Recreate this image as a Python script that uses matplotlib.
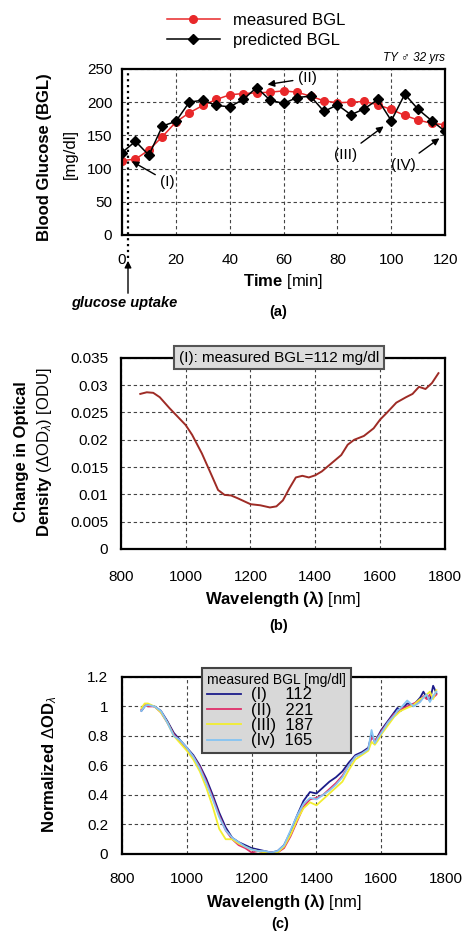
import matplotlib
matplotlib.use('Agg')
import matplotlib.pyplot as plt

plt.rcParams['font.family'] = ['Liberation Sans', 'DejaVu Sans']
plt.rcParams['mathtext.fontset'] = 'custom'
plt.rcParams['mathtext.rm'] = 'Liberation Sans'
plt.rcParams['mathtext.bf'] = 'Liberation Sans:bold'
plt.rcParams['mathtext.it'] = 'Liberation Sans:italic'

# (a) blood glucose vs time
time_min = [0, 5, 10, 15, 20, 25, 30, 35, 40, 45, 50, 55, 60, 65, 70, 75, 80, 85, 90, 95, 100, 105, 110, 115, 120]
measured = [112, 114, 128, 148, 170, 184, 195, 204, 211, 213, 214, 215, 217, 215, 209, 202, 199, 200, 201, 196, 189, 180, 173, 168, 166]
predicted = [124, 141, 120, 164, 171, 200, 203, 195, 193, 204, 222, 203, 198, 207, 209, 186, 196, 181, 190, 204, 172, 212, 189, 172, 156]

# (b) change in optical density, sample (I)
wl_b = [860, 880, 900, 920, 950, 1000, 1020, 1050, 1080, 1100, 1120, 1140, 1160, 1200, 1230, 1260, 1280,
        1300, 1320, 1340, 1360, 1380, 1400, 1420, 1450, 1480, 1500, 1520, 1550, 1580, 1600, 1620, 1650,
        1680, 1700, 1720, 1740, 1760, 1780]
od_b = [0.0284, 0.0287, 0.0286, 0.0278, 0.0258, 0.0227, 0.0209, 0.0175, 0.0135, 0.0108, 0.0099, 0.0098,
        0.0093, 0.0082, 0.0080, 0.0076, 0.0078, 0.0089, 0.0111, 0.0131, 0.0134, 0.0131, 0.0135, 0.0142,
        0.0157, 0.0172, 0.0191, 0.0200, 0.0207, 0.0221, 0.0237, 0.0249, 0.0268, 0.0278, 0.0284, 0.0297,
        0.0293, 0.0304, 0.0322]

# (c) normalized spectra
wl_c = [860, 870, 880, 900, 920, 940, 960, 980, 1000, 1020, 1040, 1060, 1080, 1100, 1120, 1140, 1160, 1180,
        1200, 1220, 1240, 1260, 1280, 1300, 1320, 1340, 1360, 1380, 1400, 1420, 1440, 1460, 1480, 1500,
        1520, 1540, 1560, 1570, 1580, 1590, 1600, 1620, 1640, 1650, 1660, 1680, 1700, 1720, 1730, 1740,
        1750, 1760, 1770]
norm_I = [0.97, 1.00, 1.01, 1.00, 0.97, 0.90, 0.82, 0.77, 0.72, 0.67, 0.60, 0.51, 0.40, 0.28, 0.18, 0.11, 0.08, 0.06,
          0.04, 0.03, 0.02, 0.01, 0.02, 0.06, 0.15, 0.26, 0.36, 0.42, 0.41, 0.45, 0.49, 0.52, 0.56, 0.62,
          0.67, 0.69, 0.72, 0.81, 0.76, 0.80, 0.84, 0.90, 0.96, 0.99, 0.97, 1.02, 1.01, 1.06, 1.10, 1.06,
          1.04, 1.14, 1.09]
norm_II = [0.98, 1.01, 1.00, 1.00, 0.96, 0.89, 0.81, 0.76, 0.71, 0.66, 0.59, 0.49, 0.38, 0.26, 0.16, 0.10, 0.06, 0.04,
           0.01, 0.02, 0.01, 0.01, 0.01, 0.04, 0.12, 0.22, 0.32, 0.37, 0.38, 0.40, 0.44, 0.48, 0.53, 0.60,
           0.66, 0.68, 0.71, 0.79, 0.77, 0.79, 0.83, 0.89, 0.95, 0.96, 0.98, 1.00, 1.02, 1.04, 1.07, 1.05,
           1.08, 1.06, 1.08]
norm_III = [0.99, 1.02, 1.02, 1.00, 0.96, 0.89, 0.80, 0.75, 0.70, 0.64, 0.56, 0.45, 0.32, 0.17, 0.10, 0.10, 0.07, 0.05,
            0.03, 0.02, 0.01, 0.00, 0.01, 0.05, 0.13, 0.23, 0.31, 0.35, 0.33, 0.37, 0.41, 0.45, 0.49, 0.57,
            0.64, 0.67, 0.70, 0.76, 0.74, 0.77, 0.81, 0.87, 0.93, 0.95, 0.97, 0.99, 1.01, 1.05, 1.06, 1.08,
            1.10, 1.05, 1.11]
norm_IV = [0.97, 1.00, 1.01, 1.00, 0.97, 0.89, 0.80, 0.77, 0.72, 0.66, 0.58, 0.48, 0.37, 0.25, 0.16, 0.11, 0.08, 0.05,
           0.03, 0.02, 0.02, 0.01, 0.02, 0.06, 0.16, 0.26, 0.34, 0.38, 0.37, 0.40, 0.43, 0.47, 0.52, 0.60,
           0.66, 0.68, 0.71, 0.84, 0.75, 0.79, 0.82, 0.89, 0.94, 0.97, 0.99, 1.04, 1.00, 1.03, 1.06, 1.08,
           1.03, 1.07, 1.10]
labels_c = ['(I)    112', '(II)   221', '(III)  187', '(Iv)  165']
colors_c = ['#1c1c8a', '#e0306a', '#f2ee30', '#86c4f2']

fig = plt.figure(figsize=(4.63, 9.32), dpi=100)


def style(ax):
    ax.grid(True, linestyle=(0, (3, 2.5)), color='#444444', linewidth=0.8)
    ax.set_axisbelow(True)
    for s in ax.spines.values():
        s.set_linewidth(1.6)
    ax.tick_params(length=0, labelsize=11)


# ---- (a)
ax1 = fig.add_axes([0.2635, 0.748, 0.698, 0.178])
style(ax1)
ax1.tick_params(axis='x', pad=13)
ax1.tick_params(axis='y', pad=7)
ax1.plot(time_min, measured, '-o', color='#e8282a', lw=1.1, ms=5.5, label='measured BGL')
ax1.plot(time_min, predicted, '-D', color='black', lw=1.1, ms=5, label='predicted BGL')
ax1.set_xlim(0, 120)
ax1.set_ylim(0, 250)
ax1.set_xticks(range(0, 121, 20))
ax1.set_yticks(range(0, 251, 50))
ax1.axvline(2.2, ymin=-0.14, ymax=1, color='black', ls=':', lw=1.6, clip_on=False)
ap = dict(arrowstyle='-|>', color='black', lw=1, mutation_scale=10)
ax1.annotate('(I)', xy=(2.7, 113), xytext=(17, 80), ha='center', va='center', fontsize=11, arrowprops=ap)
ax1.annotate('(II)', xy=(53, 226), xytext=(69, 236), ha='center', va='center', fontsize=11, arrowprops=ap)
ax1.annotate('(III)', xy=(98, 166), xytext=(83, 121), ha='center', va='center', fontsize=11, arrowprops=ap)
ax1.annotate('(IV)', xy=(118.7, 148), xytext=(104.5, 106), ha='center', va='center', fontsize=11, arrowprops=ap)
ax1.text(1.0, 1.03, 'TY ♂ 32 yrs', transform=ax1.transAxes, ha='right', va='bottom',
         fontsize=8.5, style='italic', family=['Liberation Sans', 'DejaVu Sans'])
ax1.set_xlabel(r'$\mathbf{Time}$ [min]', fontsize=12, labelpad=4)
fig.text(45 / 463, 1 - 157 / 932, 'Blood Glucose (BGL)', rotation=90, ha='center', va='center',
         fontsize=12, fontweight='bold')
fig.text(70 / 463, 1 - 154 / 932, '[mg/dl]', rotation=90, ha='center', va='center', fontsize=12)
fig.legend(loc='upper left', bbox_to_anchor=(160 / 463, 1 - 6 / 932), frameon=False, fontsize=12,
           handlelength=3.2, labelspacing=0.3, borderaxespad=0)
fig.text(124 / 463, 1 - 303 / 932, 'glucose uptake', ha='center', va='center', fontsize=10.5,
         fontweight='bold', style='italic')
fig.patches.append(matplotlib.patches.FancyArrowPatch((128 / 463, 1 - 296 / 932), (128 / 463, 1 - 258 / 932),
                                                      transform=fig.transFigure, arrowstyle='-|>',
                                                      mutation_scale=10, color='black', lw=1))
fig.text(278 / 463, 1 - 312 / 932, '(a)', ha='center', va='center', fontsize=10.5, fontweight='bold')

# ---- (b)
ax2 = fig.add_axes([0.261, 0.411, 0.700, 0.205])
style(ax2)
ax2.tick_params(axis='x', pad=15)
ax2.tick_params(axis='y', pad=9)
ax2.plot(wl_b, od_b, color='#9e2b25', lw=1.4)
ax2.set_xlim(800, 1800)
ax2.set_ylim(0, 0.035)
ax2.set_xticks(range(800, 1801, 200))
ax2.set_yticks([0, 0.005, 0.01, 0.015, 0.02, 0.025, 0.03, 0.035])
ax2.set_yticklabels(['0', '0.005', '0.01', '0.015', '0.02', '0.025', '0.03', '0.035'])
ax2.text(0.488, 1.0, '(I): measured BGL=112 mg/dl', transform=ax2.transAxes, ha='center', va='center',
         fontsize=11, bbox=dict(boxstyle='square,pad=0.3', facecolor='#dcdcdc', edgecolor='#555555', lw=1.5))
ax2.set_xlabel(r'$\mathbf{Wavelength\ (\lambda)}$ [nm]', fontsize=12, labelpad=4)
fig.text(22 / 463, 1 - 452 / 932, 'Change in Optical', rotation=90, ha='center', va='center',
         fontsize=12, fontweight='bold')
fig.text(45 / 463, 1 - 452 / 932, r'$\mathbf{Density}$ ($\Delta$OD$_\lambda$) [ODU]', rotation=90,
         ha='center', va='center', fontsize=12)
fig.text(279 / 463, 1 - 626 / 932, '(b)', ha='center', va='center', fontsize=10.5, fontweight='bold')

# ---- (c)
ax3 = fig.add_axes([0.2635, 0.0837, 0.700, 0.190])
style(ax3)
ax3.tick_params(axis='x', pad=13)
ax3.tick_params(axis='y', pad=10)
for ys, c, lab in zip([norm_I, norm_II, norm_III, norm_IV], colors_c, labels_c):
    ax3.plot(wl_c, ys, color=c, lw=1.3, label=lab)
ax3.set_xlim(800, 1800)
ax3.set_ylim(0, 1.2)
ax3.set_xticks(range(800, 1801, 200))
ax3.set_yticks([0, 0.2, 0.4, 0.6, 0.8, 1.0, 1.2])
ax3.set_yticklabels(['0', '0.2', '0.4', '0.6', '0.8', '1', '1.2'])
leg = ax3.legend(loc='upper center', bbox_to_anchor=(0.478, 1.097), title='measured BGL [mg/dl]',
                 fontsize=12, title_fontsize=10, fancybox=False, framealpha=1, facecolor='#d8d8d8',
                 edgecolor='#444444', handlelength=2.0, labelspacing=0.02, borderpad=0.3,
                 handletextpad=0.6)
leg._legend_box.align = 'left'
leg.get_frame().set_linewidth(1.5)
ax3.set_xlabel(r'$\mathbf{Wavelength\ (\lambda)}$ [nm]', fontsize=12, labelpad=4)
fig.text(50 / 463, 1 - 764 / 932, r'Normalized $\Delta$OD$_\lambda$', rotation=90, ha='center', va='center',
         fontsize=12, fontweight='bold')
fig.text(280 / 463, 1 - 924 / 932, '(c)', ha='center', va='center', fontsize=10.5, fontweight='bold')

fig.savefig('out.png', dpi=100)
